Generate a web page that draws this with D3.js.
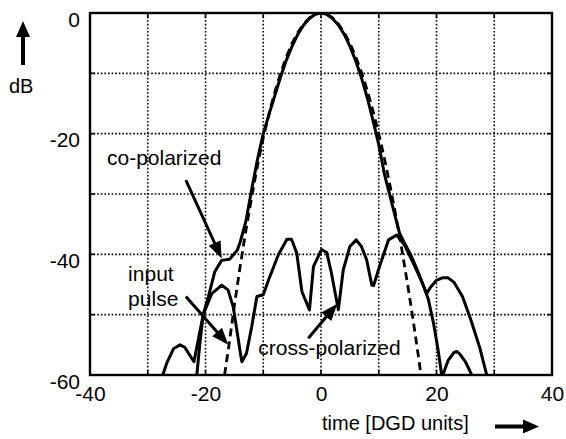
<!DOCTYPE html>
<html>
<head>
<meta charset="utf-8">
<script src="https://cdn.jsdelivr.net/npm/d3@7"></script>
<style>
    body { margin: 0; background: #fff; }
    text { font-family: "Liberation Sans", Arial, sans-serif; fill: #000; }
</style>
</head>
<body>
<div id="root"></div>
<script>
const xTicks = [-40, -20, 0, 20, 40];
const yTicks = [-60, -40, -20, 0];
const xGrid = [-30, -20, -10, 0, 10, 20, 30];
const yGrid = [-50, -40, -30, -20, -10];

// input pulse (dashed)
const inputT = [-16.7, -16, -15, -14, -13, -12, -11, -10, -9, -8, -7, -6, -5, -4, -3, -2, -1, 0,
    1, 2, 3, 4, 5, 6, 7, 8, 9, 10, 11, 12, 13, 14, 15, 16, 17, 17.3];
const inputDb = [-60, -55.5, -48.5, -42, -36, -30.5, -25.3, -20.7, -16.7, -13.1, -10, -7.3, -5, -3.2, -1.8, -0.8, -0.2, 0,
    -0.2, -0.8, -1.8, -3.2, -5, -7.2, -9.8, -12.8, -16.2, -20, -24.2, -28.8, -33.8, -39.2, -45, -51.2, -57.8, -60];

// co-polarized output
const coT = [-21.5, -21, -20.4, -19.5, -18.4, -17.2, -15.8, -14.5, -14, -13, -12, -11, -10, -9, -8, -7, -6, -5, -4, -3, -2, -1, 0,
    1, 2, 3, 4, 5, 6, 7, 8, 9, 10, 11, 12, 13, 13.6, 14.5, 15.5, 16.5, 17.5, 18.6, 19.5, 20.3, 20.9,
    21.0, 21.1, 22, 23, 23.5, 24, 25, 26.1];
const coDb = [-60, -55, -50, -47, -42.9, -41, -40.8, -39.3, -38, -34.5, -29.2, -24.3, -20, -16.8, -13.7, -10.6, -7.8, -5.5, -3.5, -2, -0.9, -0.2, 0,
    -0.2, -0.9, -2, -3.5, -5.5, -7.9, -10.7, -14, -17.8, -21.8, -26.8, -30.5, -34.3, -36.5, -38.2, -40, -42.2, -44.6, -47.5, -51.5, -56, -60,
    -61, -60, -57.6, -56.3, -56.1, -56.5, -57.8, -60];

// cross-polarized output
const crossT = [-27.4, -26.7, -25.5, -24.4, -23.6, -22, -20.4, -18.9, -17.2, -16.1, -15.2, -14, -13.7, -12.9, -12, -11.1, -10, -9.1, -7.4,
    -5.9, -5.1, -4.2, -3.3, -2, -1.3, 0.1, 1, 1.8, 3, 3.85, 5, 6.1, 7, 7.9, 8.8, 9.1, 10.2, 11.7, 13.1,
    14.5, 16, 17.2, 18.3, 19, 20, 21, 22, 23, 24.5, 26, 27.5, 28.7];
const crossDb = [-60, -58, -55.6, -55, -55.4, -57.8, -50, -46.5, -45.1, -45.9, -48.7, -56.1, -57.8, -56.4, -52, -47, -46.7, -44.3, -40.1,
    -37.5, -37.5, -39.8, -46.2, -49.2, -42, -39.2, -39.7, -43.1, -49.2, -42.6, -38.7, -37.6, -38.7, -40.9, -45.1, -45.2, -41.8, -37.6, -36.8,
    -38.5, -41.5, -44, -46.5, -45.4, -44.3, -43.9, -43.9, -44.6, -47, -51, -55.5, -60];

// annotation anchors, in data units
const notes = [
    { lines: ['co-polarized'], t: -37.06, db: -25.2, from: [-23.4, -27.7], to: [-17.2, -40.7] },
    { lines: ['input', 'pulse'], t: -33.4, db: -44.5, from: [-23.4, -47.0], to: [-16.05, -55.0] },
    { lines: ['cross-polarized'], t: -10.85, db: -56.7, from: [-2.2, -53.9], to: [2.82, -48.2] },
];

const W = 566;
const H = 439;
const margin = { left: 90, top: 13, right: 14, bottom: 64 };
const pw = W - margin.left - margin.right;
const ph = H - margin.top - margin.bottom;

const x = d3.scaleLinear().domain([-40, 40]).range([margin.left, margin.left + pw]);
const y = d3.scaleLinear().domain([-60, 0]).range([margin.top + ph, margin.top]);

const svg = d3.select('#root')
    .append('svg')
    .attr('width', W)
    .attr('height', H);

svg.append('defs')
    .append('clipPath')
    .attr('id', 'plot')
    .append('rect')
    .attr('x', margin.left)
    .attr('y', margin.top)
    .attr('width', pw)
    .attr('height', ph);

// line with a filled triangular head at (x2, y2)
function arrow(g, x1, y1, x2, y2, width, headLen, headW) {
    const dx = x2 - x1;
    const dy = y2 - y1;
    const len = Math.sqrt(dx * dx + dy * dy);
    const ux = dx / len;
    const uy = dy / len;
    const bx = x2 - ux * headLen;
    const by = y2 - uy * headLen;
    g.append('line')
        .attr('x1', x1)
        .attr('y1', y1)
        .attr('x2', bx + ux)
        .attr('y2', by + uy)
        .attr('stroke', '#000')
        .attr('stroke-width', width);
    g.append('path')
        .attr('d', `M${x2},${y2}L${bx - uy * headW / 2},${by + ux * headW / 2}L${bx + uy * headW / 2},${by - ux * headW / 2}Z`)
        .attr('fill', '#000');
}

// dotted grid
const grid = svg.append('g');
grid.selectAll('line.gx')
    .data(xGrid)
    .join('line')
    .attr('class', 'gx')
    .attr('x1', d => x(d))
    .attr('x2', d => x(d))
    .attr('y1', margin.top)
    .attr('y2', margin.top + ph);
grid.selectAll('line.gy')
    .data(yGrid)
    .join('line')
    .attr('class', 'gy')
    .attr('x1', margin.left)
    .attr('x2', margin.left + pw)
    .attr('y1', d => y(d))
    .attr('y2', d => y(d));
grid.selectAll('line')
    .attr('stroke', '#000')
    .attr('stroke-width', 1.6)
    .attr('stroke-dasharray', '1.6,2');

// small inner ticks on all four sides
const tickLen = 5;
const ticks = svg.append('g').attr('stroke', '#000').attr('stroke-width', 1.6);
xGrid.forEach(v => {
    ticks.append('line').attr('x1', x(v)).attr('x2', x(v)).attr('y1', margin.top).attr('y2', margin.top + tickLen);
    ticks.append('line').attr('x1', x(v)).attr('x2', x(v)).attr('y1', margin.top + ph).attr('y2', margin.top + ph - tickLen);
});
yGrid.forEach(v => {
    ticks.append('line').attr('x1', margin.left).attr('x2', margin.left + tickLen).attr('y1', y(v)).attr('y2', y(v));
    ticks.append('line').attr('x1', margin.left + pw).attr('x2', margin.left + pw - tickLen).attr('y1', y(v)).attr('y2', y(v));
});

// axis labels (plain hyphen minus, as in the original)
const xAxis = svg.append('g')
    .attr('transform', `translate(0,${margin.top + ph})`)
    .call(d3.axisBottom(x).tickValues(xTicks).tickSize(0).tickPadding(11).tickFormat(d => String(d)));
const yAxis = svg.append('g')
    .attr('transform', `translate(${margin.left},0)`)
    .call(d3.axisLeft(y).tickValues(yTicks).tickSize(0).tickPadding(10).tickFormat(d => String(d)));
[xAxis, yAxis].forEach(a => {
    a.select('.domain').remove();
    a.selectAll('text')
        .attr('font-family', '"Liberation Sans", Arial, sans-serif')
        .attr('font-size', 21)
        .attr('fill', '#000');
});
yAxis.selectAll('text').attr('dy', 13);

// curves
const line = d3.line()
    .x(d => x(d[0]))
    .y(d => y(d[1]));

const curves = svg.append('g').attr('clip-path', 'url(#plot)');
curves.append('path')
    .datum(inputT.map((t, k) => [t, inputDb[k]]))
    .attr('d', line)
    .attr('fill', 'none')
    .attr('stroke', '#000')
    .attr('stroke-width', 2.8)
    .attr('stroke-dasharray', '8,5');
curves.append('path')
    .datum(coT.map((t, k) => [t, coDb[k]]))
    .attr('d', line)
    .attr('fill', 'none')
    .attr('stroke', '#000')
    .attr('stroke-width', 3)
    .attr('stroke-linejoin', 'round');
curves.append('path')
    .datum(crossT.map((t, k) => [t, crossDb[k]]))
    .attr('d', line)
    .attr('fill', 'none')
    .attr('stroke', '#000')
    .attr('stroke-width', 3)
    .attr('stroke-linejoin', 'round');

// frame
svg.append('rect')
    .attr('x', margin.left)
    .attr('y', margin.top)
    .attr('width', pw)
    .attr('height', ph)
    .attr('fill', 'none')
    .attr('stroke', '#000')
    .attr('stroke-width', 2.4);

// annotations
const ann = svg.append('g');
notes.forEach(n => {
    const txt = ann.append('text')
        .attr('x', x(n.t))
        .attr('y', y(n.db))
        .attr('font-size', 21);
    n.lines.forEach((s, k) => {
        txt.append('tspan')
            .attr('x', x(n.t))
            .attr('dy', k === 0 ? 0 : 25)
            .text(s);
    });
    arrow(ann, x(n.from[0]), y(n.from[1]), x(n.to[0]), y(n.to[1]), 3, 17, 13);
});

// axis titles with arrows
svg.append('text')
    .attr('x', 9)
    .attr('y', 93)
    .attr('font-size', 20)
    .text('dB');
arrow(svg, 23, 65, 23, 21, 4, 16, 14);

svg.append('text')
    .attr('x', 322)
    .attr('y', 430)
    .attr('font-size', 20)
    .text('time [DGD units]');
arrow(svg, 495, 426.5, 539, 426.5, 4, 16, 14);
</script>
</body>
</html>
